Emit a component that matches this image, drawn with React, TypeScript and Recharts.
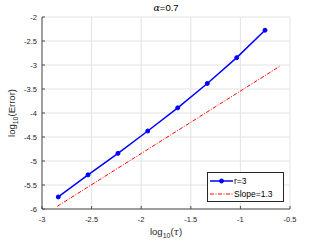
import React from 'react';
import { LineChart, Line, XAxis, YAxis, CartesianGrid } from 'recharts';

const logTau = [-2.836, -2.536, -2.234, -1.934, -1.632, -1.334, -1.037, -0.752];
const logErr = [-5.749, -5.289, -4.841, -4.375, -3.893, -3.385, -2.847, -2.276];
const slopeX = [-2.846, -0.594];
const slopeY = [-5.944, -3.015];
const xTicks = [-3, -2.5, -2, -1.5, -1, -0.5];
const yTicks = [-6, -5.5, -5, -4.5, -4, -3.5, -3, -2.5, -2];
const seriesNames = ['r=3', 'Slope=1.3'];

const errData = logTau.map((x, i) => ({ x, y: logErr[i] }));
const slopeData = slopeX.map((x, i) => ({ x, y: slopeY[i] }));

const FONT = '"Liberation Sans", Arial, Helvetica, sans-serif';
const TXT = '#262626';

const fmt = (v: number) => String(v);

const XLabel = (props: any) => {
  const vb = props.viewBox || {};
  const cx = vb.x + vb.width / 2;
  return (
    <text x={cx} y={vb.y + 26} textAnchor="middle" fontFamily={FONT} fontSize={9.5} fill={TXT}>
      log<tspan fontSize={7} dy={3}>10</tspan>
      <tspan dy={-3}>(</tspan>
      <tspan fontFamily='"DejaVu Serif", serif' fontStyle="italic">τ</tspan>
      <tspan>)</tspan>
    </text>
  );
};

const YLabel = (props: any) => {
  const vb = props.viewBox || {};
  const cy = vb.y + vb.height / 2;
  const cx = 15;
  return (
    <text x={cx} y={cy} textAnchor="middle" transform={`rotate(-90 ${cx} ${cy})`} fontFamily={FONT} fontSize={9.5} fill={TXT}>
      log<tspan fontSize={7} dy={3}>10</tspan>
      <tspan dy={-3}>(Error)</tspan>
    </text>
  );
};

const LegendBox = () => (
  <div style={{ position: 'absolute', left: 207, top: 172, width: 77, height: 30, border: '1px solid #262626', background: '#fff', boxSizing: 'border-box' }}>
    <svg width={75} height={28} style={{ display: 'block' }}>
      <line x1={2} y1={8} x2={25} y2={8} stroke="#0000ff" strokeWidth={1.5} />
      <circle cx={13.5} cy={8} r={2} fill="#0000ff" stroke="#0000ff" />
      <text x={26} y={11} fontFamily={FONT} fontSize={8.5} fill="#000">{seriesNames[0]}</text>
      <line x1={2} y1={21} x2={25} y2={21} stroke="#ff0000" strokeWidth={1} strokeDasharray="4 1.5 1 1.5" />
      <text x={26} y={24} fontFamily={FONT} fontSize={8.5} fill="#000">{seriesNames[1]}</text>
    </svg>
  </div>
);

export default function App() {
  return (
    <div style={{ position: 'absolute', left: 0, top: 0, width: 321, height: 241, background: '#fff' }}>
      <LineChart width={321} height={241} margin={{ top: 17, right: 31, bottom: 0, left: 0 }}>
        <CartesianGrid stroke="#e3e3e3" strokeWidth={1} vertical horizontal />
        <XAxis
          type="number"
          dataKey="x"
          domain={[-3, -0.5]}
          ticks={xTicks}
          tickFormatter={fmt}
          allowDataOverflow
          height={32}
          stroke="#4d4d4d"
          tickSize={-3}
          tickMargin={11}
          tick={{ fontSize: 7.5, fill: TXT, fontFamily: FONT }}
          label={<XLabel />}
        />
        <XAxis
          xAxisId="top"
          orientation="top"
          type="number"
          dataKey="x"
          domain={[-3, -0.5]}
          ticks={xTicks}
          tickFormatter={() => ''}
          allowDataOverflow
          height={0}
          stroke="#4d4d4d"
          tickSize={-3}
        />
        <YAxis
          type="number"
          dataKey="y"
          domain={[-6, -2]}
          ticks={yTicks}
          tickFormatter={fmt}
          allowDataOverflow
          width={42}
          stroke="#4d4d4d"
          tickSize={-3}
          tickMargin={8}
          tick={{ fontSize: 7.5, fill: TXT, fontFamily: FONT }}
          label={<YLabel />}
        />
        <YAxis
          yAxisId="right"
          orientation="right"
          type="number"
          dataKey="y"
          domain={[-6, -2]}
          ticks={yTicks}
          tickFormatter={() => ''}
          allowDataOverflow
          width={0}
          stroke="#4d4d4d"
          tickSize={-3}
        />
        <Line
          data={slopeData}
          dataKey="y"
          name={seriesNames[1]}
          stroke="#ff0000"
          strokeWidth={1}
          strokeDasharray="4 1.5 1 1.5"
          dot={false}
          isAnimationActive={false}
        />
        <Line
          data={errData}
          dataKey="y"
          name={seriesNames[0]}
          stroke="#0000ff"
          strokeWidth={1.5}
          dot={{ r: 2, fill: '#0000ff', stroke: '#0000ff', strokeWidth: 1 }}
          isAnimationActive={false}
        />
      </LineChart>
      <div style={{ position: 'absolute', left: 0, top: 2, width: 332, textAlign: 'center', fontFamily: FONT, fontSize: 9.5, color: '#000', lineHeight: '12px' }}>
        <span style={{ fontFamily: '"DejaVu Serif", serif', fontStyle: 'italic' }}>α</span>=0.7
      </div>
      <LegendBox />
    </div>
  );
}
